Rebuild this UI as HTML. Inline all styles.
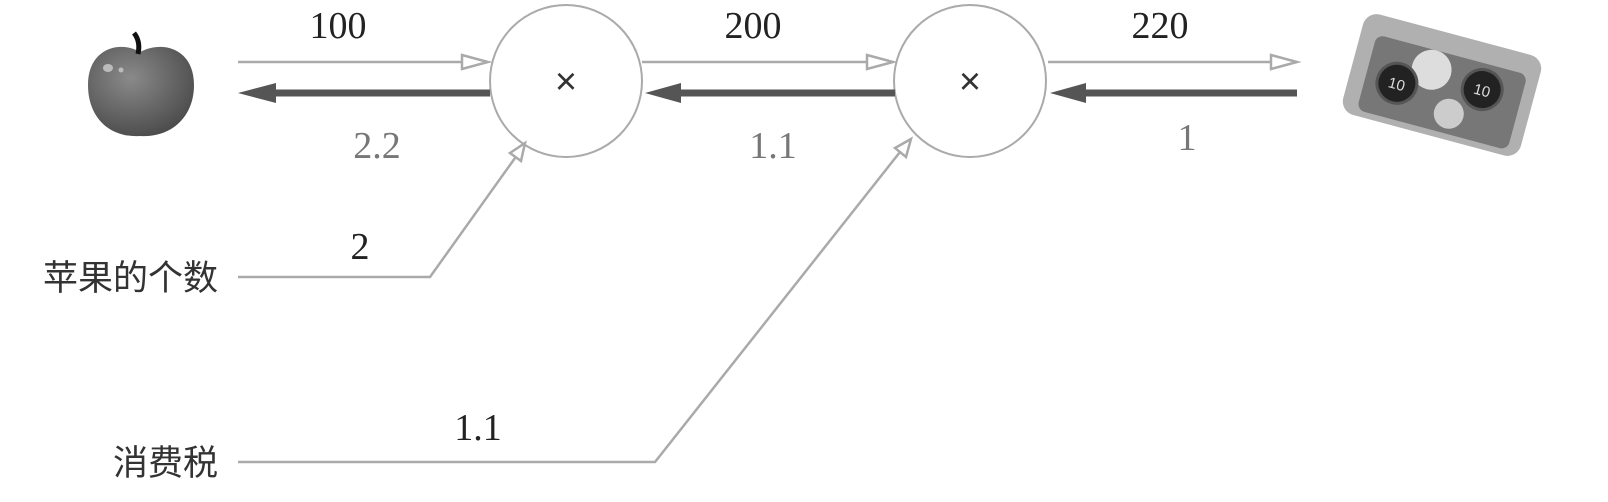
<!DOCTYPE html>
<html><head><meta charset="utf-8"><style>
html,body{margin:0;padding:0;background:#fff;width:1608px;height:502px;overflow:hidden}
svg{display:block}
.n{font-family:"Liberation Serif",serif;font-size:38px;fill:#222}
.g{fill:#777}
.c{font-family:"Liberation Sans","Noto Sans CJK SC",sans-serif;font-size:35px;fill:#333}
</style></head><body>
<svg width="1608" height="502" viewBox="0 0 1608 502" xmlns="http://www.w3.org/2000/svg">
<defs>
<radialGradient id="ap" cx="40%" cy="35%" r="70%"><stop offset="0" stop-color="#8a8a8a"/><stop offset="1" stop-color="#4a4a4a"/></radialGradient>
</defs>
<path d="M140 52 C120 40 88 48 88 85 C88 118 110 138 140 136 C170 138 194 118 194 85 C194 48 162 40 140 52Z" fill="url(#ap)"/>
<path d="M138 54 C140 45 138 38 134 33" stroke="#111" stroke-width="5" fill="none"/>
<ellipse cx="108" cy="68" rx="5" ry="4" fill="#bbb"/><circle cx="121" cy="70" r="2.5" fill="#bbb"/>
<g transform="translate(1442,85) rotate(15)">
<rect x="-92" y="-52" width="184" height="104" rx="14" fill="#b0b0b0"/>
<rect x="-76" y="-32" width="156" height="78" rx="8" fill="#777"/>
<circle cx="-14" cy="-12" r="20" fill="#ddd"/>
<circle cx="-44" cy="10" r="20" fill="#222" stroke="#555" stroke-width="3"/>
<circle cx="40" cy="-6" r="20" fill="#222" stroke="#555" stroke-width="3"/>
<circle cx="14" cy="26" r="15" fill="#ccc"/>
<text x="-44" y="16" font-family="Liberation Sans" font-size="15" fill="#ddd" text-anchor="middle">10</text>
<text x="40" y="0" font-family="Liberation Sans" font-size="15" fill="#ddd" text-anchor="middle">10</text>
</g>
<circle cx="566" cy="81" r="76" fill="#fff" stroke="#aaa" stroke-width="2"/>
<circle cx="970" cy="81" r="76" fill="#fff" stroke="#aaa" stroke-width="2"/>
<text x="566" y="94" font-family="Liberation Sans" font-size="38" fill="#333" text-anchor="middle">×</text>
<text x="970" y="94" font-family="Liberation Sans" font-size="38" fill="#333" text-anchor="middle">×</text>
<g stroke="#aaa" stroke-width="2.5" fill="#fff">
<line x1="238" y1="62" x2="462" y2="62"/><path d="M462 55 L488 62 L462 69Z"/>
<line x1="642" y1="62" x2="867" y2="62"/><path d="M867 55 L893 62 L867 69Z"/>
<line x1="1048" y1="62" x2="1271" y2="62"/><path d="M1271 55 L1297 62 L1271 69Z"/>
<polyline points="238,277 430,277 515,158" fill="none"/><path d="M510 153 L525 143 L521 161Z"/>
<polyline points="238,462 655,462 900,152" fill="none"/><path d="M895 148 L911 139 L906 157Z"/>
</g>
<g stroke="#555" stroke-width="7" fill="#555">
<line x1="490" y1="93" x2="270" y2="93"/><path d="M238 93 L276 83 L276 103Z" stroke="none"/>
<line x1="895" y1="93" x2="675" y2="93"/><path d="M645 93 L681 83 L681 103Z" stroke="none"/>
<line x1="1297" y1="93" x2="1080" y2="93"/><path d="M1050 93 L1086 83 L1086 103Z" stroke="none"/>
</g>
<text class="n" x="338" y="38" text-anchor="middle">100</text>
<text class="n" x="753" y="38" text-anchor="middle">200</text>
<text class="n" x="1160" y="38" text-anchor="middle">220</text>
<text class="n g" x="377" y="158" text-anchor="middle">2.2</text>
<text class="n g" x="773" y="158" text-anchor="middle">1.1</text>
<text class="n g" x="1187" y="150" text-anchor="middle">1</text>
<text class="n" x="360" y="259" text-anchor="middle">2</text>
<text class="n" x="478" y="440" text-anchor="middle">1.1</text>
<text class="c" x="218" y="290" text-anchor="end">苹果的个数</text>
<text class="c" x="218" y="475" text-anchor="end">消费税</text>
</svg>
</body></html>
